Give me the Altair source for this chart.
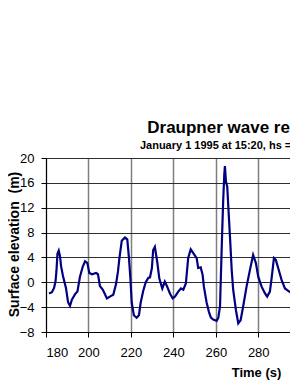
import altair as alt
import pandas as pd

time_s = [181.4, 182.8, 183.8, 184.5, 184.9, 185.4, 186.0, 186.6, 187.1, 188.0,
          189.4, 190.4, 191.3, 192.2, 193.7, 194.8, 196.0, 197.3, 198.4, 199.5,
          200.4, 201.7, 203.6, 204.5, 205.4, 206.8, 208.7, 210.1, 211.7, 213.0,
          213.9, 214.6, 215.7, 217.2, 218.3, 219.1, 219.8, 220.4, 221.4, 222.7,
          223.8, 224.6, 225.8, 227.0, 228.2, 229.0, 229.9, 230.5, 231.3, 232.4,
          233.4, 234.8, 236.0, 237.1, 238.4, 239.7, 240.8, 242.3, 243.6, 244.7,
          245.9, 247.0, 248.2, 249.4, 251.0, 251.7, 252.9, 253.8, 254.4, 255.7,
          256.8, 257.7, 258.8, 260.4, 261.2, 262.0, 262.4, 263.0, 263.5, 264.0,
          264.3, 264.8, 265.4, 265.9, 266.7, 267.5, 268.2, 269.5, 270.6, 271.7,
          272.9, 274.5, 276.1, 277.6, 278.9, 280.0, 281.6, 283.2, 284.2, 285.5,
          286.4, 287.4, 288.3, 289.4, 291.0, 292.6, 294.6, 296.5, 298.1, 299.6]
elevation_m = [-1.8, -1.6, -0.9, 0.2, 1.7, 4.6, 5.1, 4.2, 2.6, 1.0,
               -0.9, -3.2, -3.8, -2.8, -1.9, -1.5, 0.9, 2.5, 3.4, 3.1,
               1.5, 1.3, 1.5, 1.3, -0.6, -1.2, -2.6, -2.3, -2.0, -0.3,
               1.7, 3.9, 6.7, 7.2, 6.9, 3.9, 0.4, -3.3, -5.3, -5.7,
               -5.3, -3.3, -1.4, 0.0, 0.7, 0.8, 2.3, 5.2, 5.7, 3.3,
               0.6, -1.0, 0.1, -0.7, -1.8, -2.6, -2.3, -1.5, -1.0, -1.2,
               -0.2, 3.9, 5.3, 4.7, 3.9, 2.3, 2.4, 1.2, -0.7, -3.3,
               -4.8, -5.7, -6.0, -6.2, -5.7, -3.9, 0.9, 7.9, 13.2, 17.3,
               18.7, 16.2, 15.4, 12.2, 7.3, 2.0, -1.2, -4.5, -6.6, -6.1,
               -3.9, -0.7, 2.0, 4.4, 3.1, 0.9, -0.7, -1.8, -2.3, -1.5,
               0.9, 3.9, 3.6, 2.3, 0.4, -1.0, -1.5, -1.8, -1.0, -0.1]

x_ticks = [180, 200, 220, 240, 260, 280, 300, 320, 340, 360]
y_ticks = [-8, -4, 0, 4, 8, 12, 16, 20]

df = pd.DataFrame({"t": time_s, "eta": elevation_m})

FONT = "Liberation Sans"

chart = alt.Chart(df).mark_line(color="#000080", strokeWidth=2.2).encode(
    x=alt.X("t:Q",
            scale=alt.Scale(domain=[180, 360], nice=False, zero=False),
            axis=alt.Axis(values=x_ticks, title="Time (s)", format="d",
                          labelFontSize=13, labelColor="#000", labelFont=FONT,
                          labelBaseline="alphabetic", labelPadding=19.5,
                          tickSize=5, tickColor="#000", domainColor="#000",
                          gridColor="#7f7f7f", gridWidth=1.5,
                          titleFont=FONT, titleFontSize=13, titleFontWeight="bold",
                          titleColor="#000", titleX=210, titleY=44,
                          titleBaseline="alphabetic", titleAlign="center")),
    y=alt.Y("eta:Q",
            scale=alt.Scale(domain=[-8, 20], nice=False, zero=False),
            axis=alt.Axis(values=y_ticks, title="Surface elevation\u00a0 (m)",
                          labelFontSize=13, labelColor="#000", labelFont=FONT,
                          labelPadding=7, tickSize=5, tickColor="#000",
                          domainColor="#000", gridColor="#2e2e2e", gridWidth=1,
                          titleFont=FONT, titleFontSize=14, titleFontWeight="bold",
                          titleColor="#000", titleX=-28, titleY=86,
                          titleBaseline="alphabetic", titleAlign="center",
                          titleAngle=270)),
).properties(
    width=382,
    height=174,
    title=alt.TitleParams(
        text="Draupner wave record",
        subtitle="January 1 1995 at 15:20, hs = 11.92 m",
        anchor="middle", frame="group",
        font=FONT, fontSize=17, fontWeight="bold", color="#000",
        subtitleFont=FONT, subtitleFontSize=11, subtitleFontWeight="bold",
        subtitleColor="#000", subtitlePadding=3, offset=0,
    ),
    autosize=alt.AutoSizeParams(type="none"),
    padding={"left": 38, "top": 150, "right": -138, "bottom": 48},
).configure_view(
    fill="#c0c0c0", strokeWidth=0
).configure(background="white")

chart.save("out.html", embed_options={"renderer": "svg", "actions": False})
